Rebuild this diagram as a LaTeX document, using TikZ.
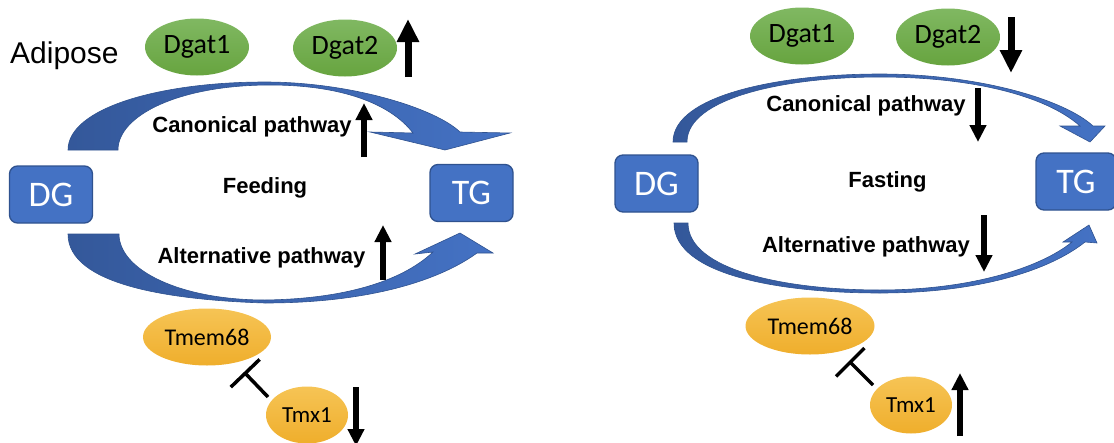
\documentclass[tikz,border=0pt]{standalone}
\usepackage{fontspec}
\setmainfont{Liberation Sans}
\newfontfamily\calibfont{Carlito}
\usetikzlibrary{arrows.meta,shapes.geometric}
\definecolor{boxblue}{HTML}{4472C4}
\definecolor{boxedge}{HTML}{2F528F}
\definecolor{arcdark}{HTML}{34589A}
\definecolor{gtop}{HTML}{80B862}
\definecolor{gbot}{HTML}{67A43F}
\definecolor{otop}{HTML}{F6C455}
\definecolor{obot}{HTML}{EFAE2C}
\begin{document}
\begin{tikzpicture}[x=1pt,y=-1pt,
  stagebox/.style={draw=boxedge,line width=1.3pt,fill=boxblue,rounded corners=8pt,minimum width=83pt,minimum height=57pt,inner sep=0pt,text=white,font=\calibfont\fontsize{36}{36}\selectfont},
  greengene/.style={ellipse,top color=gtop,bottom color=gbot,minimum width=104pt,minimum height=57pt,inner sep=0pt,font=\calibfont\fontsize{28}{28}\selectfont},
  orangegene/.style={ellipse,top color=otop,bottom color=obot,minimum height=57pt,inner sep=0pt,font=\calibfont\fontsize{24}{24}\selectfont},
  pathlabel/.style={font=\bfseries\fontsize{22}{24}\selectfont,inner sep=0pt,anchor=base},
  tissue/.style={font=\fontsize{30}{32}\selectfont,inner sep=0pt,anchor=base west},
  bigind/.style={line width=7pt,-{Triangle[width=21pt,length=23pt]}},
  smallind/.style={line width=5.5pt,-{Triangle[width=16pt,length=17pt]}},
  inhib/.style={line width=3.5pt,-{Bar[width=40pt]}},
  flowarc/.style={left color=arcdark,right color=boxblue,draw=boxedge,line width=0.6pt},
]
\useasboundingbox (0,0) rectangle (1114,442);
\clip (0,0) rectangle (1114,442);

% ---------- left panel: curved arrows ----------
\path[flowarc] (68,150) .. controls (68,108) and (160,82) .. (265,82)
  .. controls (350,82) and (435,108) .. (460,132)
  -- (510,133) -- (445,150) -- (370,132) -- (413,133)
  .. controls (390,103) and (340,85) .. (270,85)
  .. controls (180,85) and (118,115) .. (118,150) -- cycle;
\path[flowarc] (68,234) .. controls (68,285) and (170,300) .. (265,303)
  .. controls (370,303) and (440,280) .. (477,253)
  -- (493,253) -- (460,233) -- (415,254) -- (433,252)
  .. controls (400,283) and (340,299) .. (265,300)
  .. controls (180,300) and (119,270) .. (119,234) -- cycle;

% ---------- right panel: curved arrows ----------
\path[flowarc] (673,142) .. controls (673,95) and (780,74) .. (880,74)
  .. controls (980,74) and (1065,100) .. (1093,126)
  -- (1105,126) -- (1090,142) -- (1060,126) -- (1080,126)
  .. controls (1045,95) and (970,77) .. (880,77)
  .. controls (785,77) and (687,98) .. (687,142) -- cycle;
\path[flowarc] (674,223) .. controls (674,275) and (780,293) .. (880,293)
  .. controls (980,293) and (1050,270) .. (1085,242)
  -- (1097,243) -- (1089,225) -- (1063,242) -- (1072,242)
  .. controls (1040,268) and (970,290) .. (880,290)
  .. controls (785,290) and (688,270) .. (688,223) -- cycle;

% ---------- left panel nodes ----------
\node[tissue] (adipose) at (10,63) {Adipose};
\node[stagebox] (dgL) at (51,194.5) {DG};
\node[stagebox] (tgL) at (471.5,193) {TG};
\node[greengene] (dgat1L) at (197,47) {Dgat1};
\node[greengene] (dgat2L) at (345,48) {Dgat2};
\node[orangegene,minimum width=128pt] (tmem68L) at (207,337) {Tmem68};
\node[orangegene,minimum width=82pt,font=\calibfont\fontsize{23}{23}\selectfont] (tmx1L) at (307,415) {Tmx1};
\node[pathlabel] (canL) at (252,132) {Canonical pathway};
\node[pathlabel] (feedL) at (265,193) {Feeding};
\node[pathlabel] (altL) at (261.5,263) {Alternative pathway};

% ---------- right panel nodes ----------
\node[stagebox] (dgR) at (656.5,183.5) {DG};
\node[stagebox,minimum width=80pt] (tgR) at (1076,181.5) {TG};
\node[greengene] (dgat1R) at (802,36) {Dgat1};
\node[greengene] (dgat2R) at (948,37) {Dgat2};
\node[orangegene,minimum width=129pt] (tmem68R) at (810,326) {Tmem68};
\node[orangegene,minimum width=82pt,font=\calibfont\fontsize{23}{23}\selectfont] (tmx1R) at (911,405) {Tmx1};
\node[pathlabel] (canR) at (866,111) {Canonical pathway};
\node[pathlabel] (fastR) at (887.5,187) {Fasting};
\node[pathlabel] (altR) at (866,252) {Alternative pathway};

% ---------- indicator arrows ----------
\coordinate (a1s) at (408,77);  \coordinate (a1e) at (408,19);
\coordinate (a2s) at (364,157); \coordinate (a2e) at (364,103);
\coordinate (a3s) at (383,280); \coordinate (a3e) at (383,225);
\coordinate (a4s) at (356,387); \coordinate (a4e) at (356,446);
\coordinate (b1s) at (1011,17); \coordinate (b1e) at (1011,73);
\coordinate (b2s) at (978,88);  \coordinate (b2e) at (978,142);
\coordinate (b3s) at (984,215); \coordinate (b3e) at (984,272);
\coordinate (b4s) at (960,436); \coordinate (b4e) at (960,373);
\draw[bigind] (a1s) -- (a1e);
\draw[smallind] (a2s) -- (a2e);
\draw[smallind] (a3s) -- (a3e);
\draw[smallind] (a4s) -- (a4e);
\draw[bigind] (b1s) -- (b1e);
\draw[smallind] (b2s) -- (b2e);
\draw[smallind] (b3s) -- (b3e);
\draw[smallind] (b4s) -- (b4e);

% ---------- inhibition ----------
\coordinate (inhLs) at (268,397); \coordinate (inhLe) at (244,372);
\coordinate (inhRs) at (873,385); \coordinate (inhRe) at (849,361);
\draw[inhib] (inhLs) -- (inhLe);
\draw[inhib] (inhRs) -- (inhRe);
\end{tikzpicture}
\end{document}
